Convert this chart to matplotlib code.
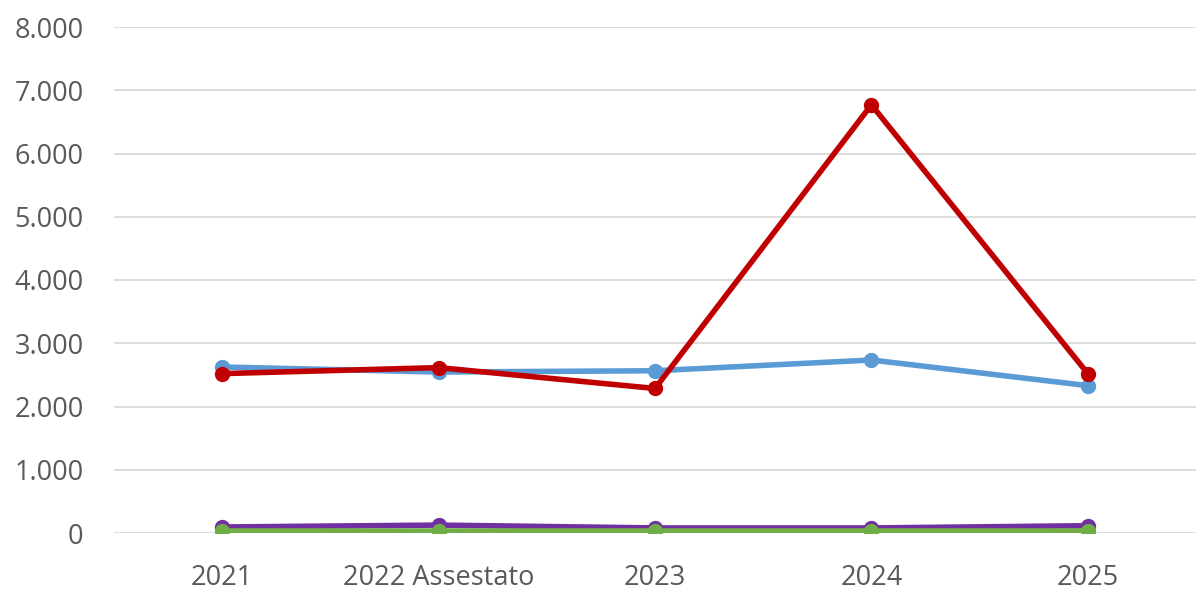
import matplotlib
matplotlib.use("Agg")
import matplotlib.pyplot as plt

categories = ["2021", "2022 Assestato", "2023", "2024", "2025"]
blue_vals = [2625, 2545, 2565, 2735, 2330]
red_vals = [2520, 2615, 2285, 6770, 2520]
purple_vals = [95, 125, 80, 80, 115]
green_vals = [30, 30, 30, 30, 30]

plt.rcParams['font.family'] = ['Open Sans', 'DejaVu Sans']

fig = plt.figure(figsize=(11.96, 5.91), dpi=100)
ax = fig.add_axes([114/1196, 1 - 533/591, 1 - 114/1196, (533 - 27)/591])

x = list(range(len(categories)))
lw = 4.0
ms = 10
ax.plot(x, blue_vals, color="#5B9BD5", lw=lw, marker="o", ms=ms, solid_joinstyle="round", zorder=3)
ax.plot(x, red_vals, color="#C00000", lw=lw, marker="o", ms=ms, solid_joinstyle="round", zorder=4)
ax.plot(x, purple_vals, color="#7030A0", lw=lw, marker="o", ms=ms, solid_joinstyle="round", zorder=3)
ax.plot(x, green_vals, color="#70AD47", lw=lw, marker="o", ms=ms, solid_joinstyle="round", zorder=4)

ax.set_xlim(-0.5, len(categories) - 0.5)
ax.set_ylim(0, 8000)
ax.set_yticks(range(0, 8001, 1000))
ax.set_yticklabels([f"{v:,}".replace(",", ".") for v in range(0, 8001, 1000)])
ax.set_xticks(x)
ax.set_xticklabels(categories)
ax.tick_params(axis="both", length=0, labelsize=19.5, colors="#595959")
ax.tick_params(axis="y", pad=22)
ax.tick_params(axis="x", pad=22)
ax.grid(axis="y", color="#D9D9D9", lw=1.3)
ax.set_axisbelow(True)
for s in ax.spines.values():
    s.set_visible(False)

fig.savefig("out.png", dpi=100, facecolor="white")
